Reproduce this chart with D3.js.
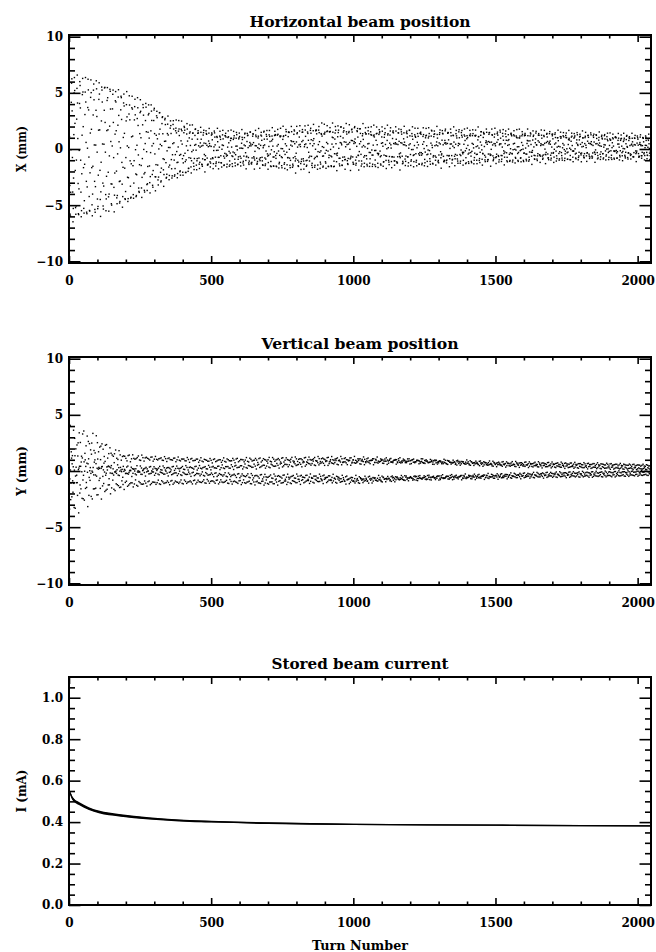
<!DOCTYPE html>
<html>
<head>
<meta charset="utf-8">
<script src="https://cdn.jsdelivr.net/npm/d3@7"></script>
<style>
  body { margin: 0; background: #fff; }
</style>
</head>
<body>
<svg id="chart" width="656" height="952"></svg>
<script>
// Turn-by-turn record, 2048 turns
const turnCount = 2048;
const serif = "'DejaVu Serif', 'Liberation Serif', serif";

// Horizontal orbit: envelope of the dot cloud (mm)
const hTurns = [0, 100, 200, 300, 350, 400, 450, 500, 600, 700, 800, 900, 1000, 1200, 1500, 1800, 2047];
const hUpper = [6.9, 6.4, 5.3, 4.1, 3.0, 2.7, 2.15, 2.0, 1.8, 2.0, 2.3, 2.5, 2.4, 2.15, 2.0, 1.7, 1.4];
const hLower = [-6.7, -6.2, -5.3, -3.9, -3.1, -2.7, -2.1, -2.0, -1.8, -1.95, -2.2, -2.1, -2.0, -1.85, -1.55, -1.25, -1.1];
// share of the envelope filled by the decohered part of the beam
const hDecoTurns = [0, 300, 500, 2047];
const hDeco = [0.06, 0.1, 0.22, 0.25];
const hTunes = [0.1035, 0.3731, 0.4417];
const hPhase = 0.15;

// Vertical orbit envelope (mm)
const vTurns = [0, 50, 100, 150, 200, 300, 500, 700, 900, 1000, 1200, 1400, 1500, 1700, 1900, 2047];
const vUpper = [4.2, 4.0, 3.3, 2.2, 1.6, 1.35, 1.2, 1.35, 1.5, 1.55, 1.45, 1.2, 1.05, 0.9, 0.75, 0.6];
const vLower = [-4.4, -3.6, -2.7, -2.1, -1.6, -1.3, -1.2, -1.4, -1.3, -1.45, -1.2, -1.0, -0.9, -0.7, -0.6, -0.45];
const vDecoTurns = [0, 150, 300, 2047];
const vDeco = [0.4, 0.3, 0.18, 0.2];
const vTunes = [0.2501, 0.1871, 0.4129];
const vPhase = 0.0;

// Stored current (mA) and the thickness of the trace
const iTurns  = [0, 4, 10, 18, 35, 70, 105, 176, 281, 387, 500, 700, 1000, 1500, 2047];
const iValues = [0.55, 0.54, 0.52, 0.505, 0.49, 0.465, 0.449, 0.433, 0.418, 0.408, 0.402, 0.395, 0.389, 0.385, 0.382];
const iSpread = [0.012, 0.014, 0.016, 0.016, 0.015, 0.014, 0.013, 0.012, 0.011, 0.01, 0.009, 0.008, 0.007, 0.006, 0.006];

const turnTicks = [0, 500, 1000, 1500, 2000];
const posTicks = [-10, -5, 0, 5, 10];
const curTicks = [0.0, 0.2, 0.4, 0.6, 0.8, 1.0];

const svg = d3.select("#chart");
const left = 69, right = 651, plotH = 228;

const x = d3.scaleLinear().domain([0, turnCount - 1]).range([left, right]);

function beamSignal(turns, upper, lower, decoTurns, deco, tunes, phase) {
    const up = d3.scaleLinear().domain(turns).range(upper);
    const lo = d3.scaleLinear().domain(turns).range(lower);
    const dc = d3.scaleLinear().domain(decoTurns).range(deco);
    return d3.range(turnCount).map(n => {
        const c = (up(n) + lo(n)) / 2, a = (up(n) - lo(n)) / 2, m = dc(n);
        const s = (1 - m) * Math.cos(2 * Math.PI * tunes[0] * n + phase)
                + m * (0.6 * Math.cos(2 * Math.PI * tunes[1] * n + 1.1)
                     + 0.4 * Math.cos(2 * Math.PI * tunes[2] * n + 2.3));
        return { n, v: c + a * s };
    });
}

function panel(opt) {
    const top = opt.top, bottom = top + plotH;
    const y = d3.scaleLinear().domain(opt.yDomain).range([bottom, top]);
    const g = svg.append("g");

    // title
    g.append("text")
        .attr("x", (left + right) / 2).attr("y", top - 8)
        .attr("text-anchor", "middle")
        .style("font-family", serif).style("font-weight", "bold").style("font-size", "14px")
        .attr("textLength", opt.titleLen).attr("lengthAdjust", "spacingAndGlyphs")
        .text(opt.title);

    // y label
    g.append("text")
        .attr("transform", `translate(21,${(top + bottom) / 2}) rotate(-90)`)
        .attr("text-anchor", "middle")
        .attr("dy", "0.35em")
        .style("font-family", serif).style("font-weight", "bold").style("font-size", "13.5px")
        .attr("textLength", opt.yLabelLen).attr("lengthAdjust", "spacingAndGlyphs")
        .text(opt.yLabel);

    const minorX = d3.range(0, turnCount, 100).filter(t => t % 500);
    const minorY = opt.minorY;

    const axes = [
        [d3.axisBottom(x).tickValues(turnTicks).tickSizeInner(-7).tickPadding(13).tickFormat(d3.format("d")), `translate(0,${bottom})`],
        [d3.axisBottom(x).tickValues(minorX).tickSizeInner(-3.5).tickFormat(""), `translate(0,${bottom})`],
        [d3.axisTop(x).tickValues(turnTicks).tickSizeInner(-7).tickFormat(""), `translate(0,${top})`],
        [d3.axisTop(x).tickValues(minorX).tickSizeInner(-3.5).tickFormat(""), `translate(0,${top})`],
        [d3.axisLeft(y).tickValues(opt.yTicks).tickSizeInner(-11.5).tickPadding(6).tickFormat(opt.fmt), `translate(${left},0)`],
        [d3.axisLeft(y).tickValues(minorY).tickSizeInner(-6).tickFormat(""), `translate(${left},0)`],
        [d3.axisRight(y).tickValues(opt.yTicks).tickSizeInner(-11.5).tickFormat(""), `translate(${right},0)`],
        [d3.axisRight(y).tickValues(minorY).tickSizeInner(-6).tickFormat(""), `translate(${right},0)`]
    ];
    axes.forEach(([ax, tr]) => {
        const a = g.append("g").attr("transform", tr).call(ax.tickSizeOuter(0));
        a.select(".domain").remove();
        a.selectAll("line").attr("stroke", "#000").attr("stroke-width", 1.6);
        a.selectAll("text").attr("fill", "#000")
            .style("font-family", serif).style("font-weight", "bold").style("font-size", "12px");
    });

    g.append("rect")
        .attr("x", left).attr("y", top)
        .attr("width", right - left).attr("height", plotH)
        .attr("fill", "none").attr("stroke", "#000").attr("stroke-width", 2);

    return { g, y, top, bottom };
}

function drawDots(p, data) {
    p.g.append("g").selectAll("rect")
        .data(data)
        .join("rect")
        .attr("x", d => x(d.n) - 0.7).attr("y", d => p.y(d.v) - 0.7)
        .attr("width", 1.4).attr("height", 1.4).attr("fill", "#000");
}

// Horizontal
const p1 = panel({
    top: 35, title: "Horizontal beam position", titleLen: 221,
    yLabel: "X (mm)", yLabelLen: 46,
    yDomain: [-10.15, 10.15], yTicks: posTicks,
    minorY: d3.range(-10, 11, 1).filter(v => v % 5), fmt: d3.format("d")
});
drawDots(p1, beamSignal(hTurns, hUpper, hLower, hDecoTurns, hDeco, hTunes, hPhase));

// Vertical
const p2 = panel({
    top: 357, title: "Vertical beam position", titleLen: 197,
    yLabel: "Y (mm)", yLabelLen: 50,
    yDomain: [-10.15, 10.15], yTicks: posTicks,
    minorY: d3.range(-10, 11, 1).filter(v => v % 5), fmt: d3.format("d")
});
drawDots(p2, beamSignal(vTurns, vUpper, vLower, vDecoTurns, vDeco, vTunes, vPhase));

// Current
const p3 = panel({
    top: 677, title: "Stored beam current", titleLen: 177,
    yLabel: "I (mA)", yLabelLen: 43,
    yDomain: [0, 1.1], yTicks: curTicks,
    minorY: d3.range(0, 22).map(i => i * 0.05).filter(v => Math.round(v * 100) % 20), fmt: d3.format(".1f")
});
const cur = iTurns.map((t, i) => ({ t, v: iValues[i], s: iSpread[i] }));
p3.g.append("path")
    .datum(cur)
    .attr("fill", "#000")
    .attr("d", d3.area().curve(d3.curveMonotoneX)
        .x(d => x(d.t)).y0(d => p3.y(d.v - d.s / 2)).y1(d => p3.y(d.v + d.s / 2)));
p3.g.append("path")
    .datum(cur)
    .attr("fill", "none").attr("stroke", "#000").attr("stroke-width", 1.3)
    .attr("d", d3.line().curve(d3.curveMonotoneX).x(d => x(d.t)).y(d => p3.y(d.v)));

svg.append("text")
    .attr("x", (left + right) / 2).attr("y", 950)
    .attr("text-anchor", "middle")
    .style("font-family", serif).style("font-weight", "bold").style("font-size", "12px")
    .attr("textLength", 96).attr("lengthAdjust", "spacingAndGlyphs")
    .text("Turn Number");
</script>
</body>
</html>
